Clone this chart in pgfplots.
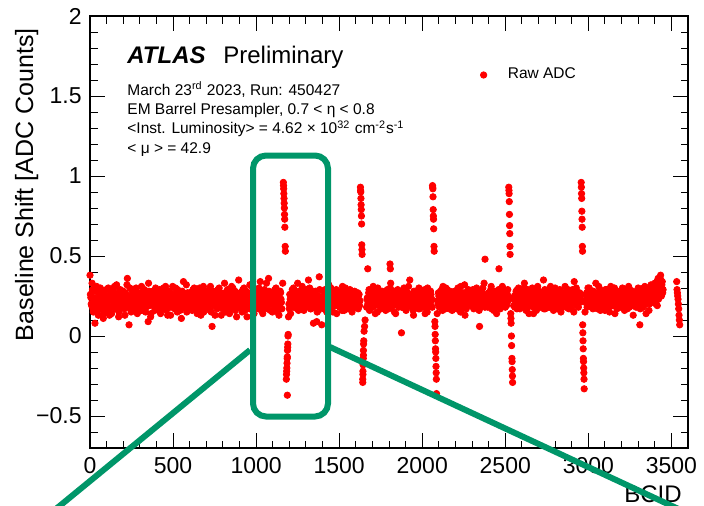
\documentclass[border=0pt]{standalone}
\usepackage{fontspec}
\setmainfont{Liberation Sans}
\usepackage{pgfplots}
\pgfplotsset{compat=1.18}
\definecolor{zoomgreen}{RGB}{0,150,105}
\definecolor{adcred}{RGB}{255,0,0}
\pgfplotsset{adc/.style={only marks, mark=*, mark size=1.6pt, color=adcred, mark options={draw=none, fill=adcred}}}

\begin{document}
\begin{tikzpicture}[x=1pt,y=1pt]
\useasboundingbox (0,0) rectangle (352,252.5);
\begin{axis}[
  at={(45pt,28.5pt)}, anchor=south west,
  scale only axis, width=299pt, height=216pt,
  xmin=0, xmax=3600, ymin=-0.7, ymax=2,
  xtick={0,500,...,3500}, xticklabels={0,500,1000,1500,2000,2500,3000,3500},
  minor xtick={0,100,...,3600},
  ytick={-0.5,0,0.5,1,1.5,2}, yticklabels={−0.5,0,0.5,1,1.5,2},
  minor ytick={-0.7,-0.6,...,2.0},
  tick align=inside, major tick length=7.5pt, minor tick length=3.75pt,
  axis line style={line width=0.6pt}, tick style={black, line width=0.5pt},
  tick label style={font=\fontsize{11.5}{13}\selectfont},
  xticklabel style={inner sep=0pt, anchor=north, yshift=-4.5pt},
  yticklabel style={inner sep=0pt, anchor=east, xshift=-4pt},
  xlabel={BCID}, ylabel={Baseline Shift [ADC Counts]},
  label style={font=\fontsize{12}{14}\selectfont},
  xlabel style={at={(axis description cs:0.99,-0.125)}, anchor=base east, inner sep=0pt},
  ylabel style={at={(axis description cs:-0.0953,0.9722)}, anchor=base east, inner sep=0pt,
    font=\fontsize{12.5}{14}\selectfont},
  legend image code/.code={\draw[#1] plot coordinates {(0pt,0pt)};},
  legend style={at={(axis description cs:0.6522,0.8634)}, anchor=west, draw=none, fill=none,
    font=\fontsize{7.75}{9}\selectfont, inner sep=0pt, column sep=0pt, nodes={inner sep=0pt}},
  clip=false,
]
% baseline band, BCID 0-1155
\addplot[adc] coordinates {
(0,.38)(5,.24)(10,.19)(15,.29)(20,.15)(25,.22)(30,.08)(35,.18)(40,.31)(45,.21)(50,.13)(55,.25)(60,.20)(65,.27)(70,.17)(75,.23)(80,.11)(85,.28)(90,.19)(95,.24)
(100,.21)(105,.16)(110,.30)(115,.23)(120,.18)(125,.26)(130,.14)(135,.22)(140,.29)(145,.20)(150,.25)(155,.17)(160,.32)(165,.19)(170,.23)(175,.15)(180,.27)(185,.21)(190,.18)(195,.24)
(200,.28)(205,.20)(210,.13)(215,.24)(220,.19)(225,.36)(230,.22)(235,.07)(240,.30)(245,.17)(250,.23)(255,.25)(260,.16)(265,.21)(270,.29)(275,.18)(280,.24)(285,.14)(290,.27)(295,.22)
(300,.19)(305,.25)(310,.31)(315,.17)(320,.23)(325,.20)(330,.26)(335,.15)(340,.26)(345,.21)(350,.09)(355,.28)(360,.24)(365,.12)(370,.22)(375,.27)(380,.19)(385,.25)(390,.16)(395,.30)
(400,.23)(405,.17)(410,.26)(415,.21)(420,.29)(425,.14)(430,.24)(435,.20)(440,.18)(445,.27)(450,.22)(455,.31)(460,.16)(465,.25)(470,.19)(475,.23)(480,.28)(485,.13)(490,.21)(495,.26)
(500,.20)(505,.24)(510,.17)(515,.30)(520,.22)(525,.15)(530,.27)(535,.19)(540,.25)(545,.23)(550,.11)(555,.28)(560,.21)(565,.18)(570,.26)(575,.24)(580,.32)(585,.16)(590,.22)(595,.20)
(600,.27)(605,.19)(610,.23)(615,.16)(620,.29)(625,.21)(630,.25)(635,.18)(640,.24)(645,.14)(650,.26)(655,.22)(660,.30)(665,.17)(670,.20)(675,.28)(680,.23)(685,.15)(690,.25)(695,.19)
(700,.22)(705,.28)(710,.18)(715,.25)(720,.20)(725,.31)(730,.15)(735,.06)(740,.27)(745,.19)(750,.24)(755,.21)(760,.26)(765,.17)(770,.29)(775,.22)(780,.18)(785,.25)(790,.13)(795,.23)
(800,.24)(805,.20)(810,.33)(815,.17)(820,.26)(825,.22)(830,.19)(835,.28)(840,.14)(845,.23)(850,.25)(855,.21)(860,.30)(865,.18)(870,.24)(875,.16)(880,.27)(885,.20)(890,.22)(895,.35)
(900,.18)(905,.26)(910,.21)(915,.15)(920,.29)(925,.23)(930,.19)(935,.25)(940,.28)(945,.12)(950,.22)(955,.27)(960,.17)(965,.24)(970,.20)(975,.31)(980,.16)(985,.26)(990,.23)(995,.19)
(1000,.25)(1005,.21)(1010,.28)(1015,.17)(1020,.23)(1025,.34)(1030,.19)(1035,.26)(1040,.14)(1045,.22)(1050,.29)(1055,.20)(1060,.24)(1065,.18)(1070,.27)(1075,.36)(1080,.21)(1085,.16)(1090,.25)(1095,.23)
(1100,.20)(1105,.27)(1110,.18)(1115,.24)(1120,.30)(1125,.22)(1130,.15)(1135,.26)(1140,.19)(1145,.28)(1150,.23)(1155,.17)
(2.5,.26)(7.5,.20)(12.5,.33)(17.5,.17)(22.5,.24)(27.5,.21)(32.5,.28)(37.5,.19)(42.5,.23)(47.5,.16)(52.5,.27)(57.5,.22)(62.5,.30)(67.5,.18)(72.5,.25)(77.5,.20)(82.5,.14)(87.5,.26)(92.5,.22)(97.5,.29)
(102.5,.19)(107.5,.25)(112.5,.22)(117.5,.13)(122.5,.28)(127.5,.24)(132.5,.18)(137.5,.26)(142.5,.21)(147.5,.31)(152.5,.17)(157.5,.23)(162.5,.20)(167.5,.27)(172.5,.12)(177.5,.24)(182.5,.29)(187.5,.19)(192.5,.22)(197.5,.26)
(202.5,.23)(207.5,.17)(212.5,.27)(217.5,.21)(222.5,.32)(227.5,.18)(232.5,.25)(237.5,.20)(242.5,.24)(247.5,.15)(252.5,.28)(257.5,.22)(262.5,.19)(267.5,.26)(272.5,.23)(277.5,.30)(282.5,.16)(287.5,.25)(292.5,.21)(297.5,.18)
(302.5,.27)(307.5,.22)(312.5,.16)(317.5,.25)(322.5,.20)(327.5,.29)(332.5,.23)(337.5,.18)(342.5,.24)(347.5,.21)(352.5,.33)(357.5,.19)(362.5,.26)(367.5,.14)(372.5,.23)(377.5,.28)(382.5,.20)(387.5,.25)(392.5,.17)(397.5,.22)
(402.5,.20)(407.5,.28)(412.5,.23)(417.5,.16)(422.5,.25)(427.5,.19)(432.5,.27)(437.5,.22)(442.5,.30)(447.5,.17)(452.5,.24)(457.5,.21)(462.5,.26)(467.5,.13)(472.5,.28)(477.5,.20)(482.5,.23)(487.5,.18)(492.5,.25)(497.5,.31)
(502.5,.25)(507.5,.18)(512.5,.22)(517.5,.27)(522.5,.19)(527.5,.29)(532.5,.21)(537.5,.24)(542.5,.16)(547.5,.26)(552.5,.20)(557.5,.23)(562.5,.34)(567.5,.18)(572.5,.25)(577.5,.22)(582.5,.15)(587.5,.27)(592.5,.21)(597.5,.24)
(602.5,.21)(607.5,.26)(612.5,.18)(617.5,.24)(622.5,.22)(627.5,.30)(632.5,.17)(637.5,.27)(642.5,.20)(647.5,.23)(652.5,.29)(657.5,.19)(662.5,.25)(667.5,.13)(672.5,.22)(677.5,.24)(682.5,.31)(687.5,.20)(692.5,.26)(697.5,.18)
(702.5,.25)(707.5,.19)(712.5,.23)(717.5,.29)(722.5,.16)(727.5,.22)(732.5,.26)(737.5,.20)(742.5,.28)(747.5,.24)(752.5,.13)(757.5,.21)(762.5,.25)(767.5,.18)(772.5,.23)(777.5,.30)(782.5,.19)(787.5,.27)(792.5,.22)(797.5,.17)
(802.5,.20)(807.5,.23)(812.5,.27)(817.5,.15)(822.5,.22)(827.5,.29)(832.5,.25)(837.5,.18)(842.5,.26)(847.5,.21)(852.5,.31)(857.5,.17)(862.5,.24)(867.5,.20)(872.5,.28)(877.5,.23)(882.5,.12)(887.5,.26)(892.5,.19)(897.5,.24)
(902.5,.27)(907.5,.22)(912.5,.18)(917.5,.25)(922.5,.20)(927.5,.30)(932.5,.16)(937.5,.24)(942.5,.21)(947.5,.26)(952.5,.19)(957.5,.23)(962.5,.32)(967.5,.18)(972.5,.27)(977.5,.22)(982.5,.25)(987.5,.14)(992.5,.21)(997.5,.28)
(1002.5,.22)(1007.5,.18)(1012.5,.25)(1017.5,.30)(1022.5,.20)(1027.5,.24)(1032.5,.16)(1037.5,.27)(1042.5,.23)(1047.5,.19)(1052.5,.26)(1057.5,.21)(1062.5,.33)(1067.5,.17)(1072.5,.24)(1077.5,.28)(1082.5,.20)(1087.5,.25)(1092.5,.22)(1097.5,.15)
(1102.5,.24)(1107.5,.21)(1112.5,.29)(1117.5,.17)(1122.5,.25)(1127.5,.20)(1132.5,.26)(1137.5,.13)(1142.5,.23)(1147.5,.27)(1152.5,.21)
};
\addlegendentry{\hspace{10.5pt}Raw ADC}
% baseline band, BCID 1195-1625
\addplot[adc, forget plot] coordinates {
(1195,.12)(1200,.17)(1205,.23)(1210,.19)(1215,.26)(1220,.21)(1225,.30)(1230,.24)(1235,.18)(1240,.27)(1245,.22)(1250,.33)(1255,.16)(1260,.25)(1265,.20)(1270,.28)(1275,.23)(1280,.19)(1285,.26)(1290,.21)
(1295,.24)(1300,.18)(1305,.29)(1310,.22)(1315,.35)(1320,.20)(1325,.26)(1330,.17)(1335,.23)(1340,.28)(1345,.08)(1350,.21)(1355,.25)(1360,.19)(1365,.09)(1370,.24)(1375,.16)(1380,.37)(1385,.22)(1390,.20)
(1395,.07)(1400,.21)(1405,.18)(1410,.24)(1415,.29)(1420,.23)(1425,.15)(1430,.27)(1435,.20)(1440,.25)(1445,.22)(1450,.30)(1455,.17)(1460,.24)(1465,.19)(1470,.28)(1475,.21)(1480,.26)(1485,.14)(1490,.23)
(1495,.20)(1500,.27)(1505,.23)(1510,.18)(1515,.25)(1520,.31)(1525,.21)(1530,.16)(1535,.24)(1540,.28)(1545,.19)(1550,.22)(1555,.26)(1560,.17)(1565,.29)(1570,.23)(1575,.20)(1580,.25)(1585,.18)(1590,.24)
(1595,.21)(1600,.27)(1605,.19)(1610,.24)(1615,.17)(1620,.26)(1625,.22)
(1197.5,.20)(1202.5,.26)(1207.5,.14)(1212.5,.24)(1217.5,.29)(1222.5,.18)(1227.5,.22)(1232.5,.27)(1237.5,.20)(1242.5,.25)(1247.5,.17)(1252.5,.23)(1257.5,.28)(1262.5,.21)(1267.5,.26)(1272.5,.19)(1277.5,.31)(1282.5,.22)(1287.5,.16)(1292.5,.24)
(1297.5,.27)(1302.5,.21)(1307.5,.19)(1312.5,.25)(1317.5,.22)(1322.5,.30)(1327.5,.17)(1332.5,.24)(1337.5,.20)(1342.5,.26)(1347.5,.23)(1352.5,.18)(1357.5,.28)(1362.5,.21)(1367.5,.15)(1372.5,.25)(1377.5,.22)(1382.5,.29)(1387.5,.19)(1392.5,.24)
(1397.5,.22)(1402.5,.28)(1407.5,.17)(1412.5,.25)(1417.5,.21)(1422.5,.19)(1427.5,.26)(1432.5,.23)(1437.5,.32)(1442.5,.18)(1447.5,.24)(1452.5,.20)(1457.5,.27)(1462.5,.15)(1467.5,.22)(1472.5,.25)(1477.5,.19)(1482.5,.29)(1487.5,.23)(1492.5,.20)
(1497.5,.25)(1502.5,.18)(1507.5,.21)(1512.5,.28)(1517.5,.16)(1522.5,.23)(1527.5,.26)(1532.5,.20)(1537.5,.30)(1542.5,.22)(1547.5,.17)(1552.5,.25)(1557.5,.24)(1562.5,.19)(1567.5,.27)(1572.5,.21)(1577.5,.15)(1582.5,.26)(1587.5,.22)(1592.5,.28)
(1597.5,.18)(1602.5,.24)(1607.5,.20)(1612.5,.27)(1617.5,.23)(1622.5,.19)
};
% baseline band, BCID 1665-2060
\addplot[adc, forget plot] coordinates {
(1665,.18)(1670,.24)(1675,.21)(1680,.29)(1685,.17)(1690,.26)(1695,.23)(1700,.20)(1705,.31)(1710,.25)(1715,.19)(1720,.22)(1725,.27)(1730,.15)(1735,.24)(1740,.28)(1745,.21)(1750,.18)(1755,.25)(1760,.23)
(1765,.27)(1770,.20)(1775,.24)(1780,.16)(1785,.22)(1790,.29)(1795,.19)(1800,.25)(1805,.21)(1810,.33)(1815,.18)(1820,.26)(1825,.23)(1830,.20)(1835,.28)(1840,.14)(1845,.24)(1850,.21)(1855,.27)(1860,.19)
(1865,.25)(1870,.22)(1875,.02)(1880,.18)(1885,.26)(1890,.30)(1895,.21)(1900,.17)(1905,.24)(1910,.27)(1915,.20)(1920,.23)(1925,.35)(1930,.19)(1935,.25)(1940,.22)(1945,.16)(1950,.28)(1955,.21)(1960,.24)
(1965,.19)(1970,.26)(1975,.23)(1980,.30)(1985,.17)(1990,.22)(1995,.27)(2000,.20)(2005,.25)(2010,.18)(2015,.29)(2020,.24)(2025,.21)(2030,.15)(2035,.26)(2040,.23)(2045,.19)(2050,.28)(2055,.22)(2060,.18)
(1667.5,.23)(1672.5,.20)(1677.5,.27)(1682.5,.16)(1687.5,.25)(1692.5,.21)(1697.5,.28)(1702.5,.18)(1707.5,.24)(1712.5,.22)(1717.5,.14)(1722.5,.26)(1727.5,.20)(1732.5,.30)(1737.5,.23)(1742.5,.19)(1747.5,.25)(1752.5,.17)(1757.5,.28)(1762.5,.22)
(1767.5,.19)(1772.5,.25)(1777.5,.22)(1782.5,.28)(1787.5,.20)(1792.5,.24)(1797.5,.17)(1802.5,.26)(1807.5,.30)(1812.5,.21)(1817.5,.23)(1822.5,.19)(1827.5,.27)(1832.5,.15)(1837.5,.22)(1842.5,.25)(1847.5,.20)(1852.5,.29)(1857.5,.18)(1862.5,.24)
(1867.5,.21)(1872.5,.27)(1877.5,.18)(1882.5,.24)(1887.5,.20)(1892.5,.23)(1897.5,.29)(1902.5,.16)(1907.5,.25)(1912.5,.21)(1917.5,.31)(1922.5,.19)(1927.5,.22)(1932.5,.26)(1937.5,.18)(1942.5,.24)(1947.5,.13)(1952.5,.27)(1957.5,.23)(1962.5,.20)
(1967.5,.26)(1972.5,.21)(1977.5,.17)(1982.5,.24)(1987.5,.29)(1992.5,.20)(1997.5,.23)(2002.5,.19)(2007.5,.27)(2012.5,.22)(2017.5,.14)(2022.5,.25)(2027.5,.21)(2032.5,.30)(2037.5,.18)(2042.5,.24)(2047.5,.20)(2052.5,.26)(2057.5,.23)
(1672,.42)(1806,.45)(1808,.42)
};
% baseline band, BCID 2090-2520
\addplot[adc, forget plot] coordinates {
(2090,.14)(2095,.20)(2100,.25)(2105,.22)(2110,.28)(2115,.18)(2120,.24)(2125,.31)(2130,.21)(2135,.26)(2140,.17)(2145,.23)(2150,.29)(2155,.20)(2160,.25)(2165,.19)(2170,.27)(2175,.22)(2180,.16)(2185,.24)
(2190,.21)(2195,.28)(2200,.18)(2205,.25)(2210,.23)(2215,.30)(2220,.20)(2225,.26)(2230,.15)(2235,.22)(2240,.27)(2245,.19)(2250,.24)(2255,.32)(2260,.21)(2265,.17)(2270,.25)(2275,.23)(2280,.28)(2285,.20)
(2290,.26)(2295,.19)(2300,.23)(2305,.29)(2310,.17)(2315,.24)(2320,.21)(2325,.27)(2330,.20)(2335,.25)(2340,.22)(2345,.06)(2350,.18)(2355,.28)(2360,.24)(2365,.30)(2370,.21)(2375,.26)(2380,.19)(2385,.23)
(2390,.24)(2395,.18)(2400,.27)(2405,.21)(2410,.25)(2415,.31)(2420,.20)(2425,.23)(2430,.16)(2435,.28)(2440,.22)(2445,.26)(2450,.19)(2455,.24)(2460,.29)(2465,.21)(2470,.17)(2475,.25)(2480,.23)(2485,.20)
(2490,.27)(2495,.22)(2500,.18)(2505,.25)(2510,.21)(2515,.29)(2520,.24)
(2092.5,.22)(2097.5,.27)(2102.5,.18)(2107.5,.24)(2112.5,.20)(2117.5,.29)(2122.5,.16)(2127.5,.23)(2132.5,.26)(2137.5,.21)(2142.5,.30)(2147.5,.19)(2152.5,.25)(2157.5,.22)(2162.5,.17)(2167.5,.28)(2172.5,.24)(2177.5,.20)(2182.5,.26)(2187.5,.21)
(2192.5,.26)(2197.5,.20)(2202.5,.23)(2207.5,.17)(2212.5,.28)(2217.5,.22)(2222.5,.25)(2227.5,.19)(2232.5,.31)(2237.5,.21)(2242.5,.24)(2247.5,.18)(2252.5,.27)(2257.5,.13)(2262.5,.23)(2267.5,.26)(2272.5,.20)(2277.5,.29)(2282.5,.22)(2287.5,.25)
(2292.5,.20)(2297.5,.24)(2302.5,.28)(2307.5,.21)(2312.5,.26)(2317.5,.18)(2322.5,.23)(2327.5,.30)(2332.5,.19)(2337.5,.25)(2342.5,.16)(2347.5,.22)(2352.5,.27)(2357.5,.20)(2362.5,.24)(2367.5,.21)(2372.5,.33)(2377.5,.18)(2382.5,.25)(2387.5,.22)
(2392.5,.21)(2397.5,.26)(2402.5,.19)(2407.5,.23)(2412.5,.29)(2417.5,.17)(2422.5,.25)(2427.5,.22)(2432.5,.27)(2437.5,.20)(2442.5,.24)(2447.5,.14)(2452.5,.26)(2457.5,.21)(2462.5,.18)(2467.5,.28)(2472.5,.23)(2477.5,.20)(2482.5,.31)(2487.5,.25)
(2492.5,.20)(2497.5,.24)(2502.5,.28)(2507.5,.19)(2512.5,.26)(2517.5,.22)
(2378,.48)(2462,.42)
};
% baseline band, BCID 2550-2955
\addplot[adc, forget plot] coordinates {
(2550,.19)(2555,.25)(2560,.22)(2565,.28)(2570,.17)(2575,.24)(2580,.30)(2585,.21)(2590,.26)(2595,.18)(2600,.23)(2605,.27)(2610,.20)(2615,.33)(2620,.24)(2625,.16)(2630,.22)(2635,.29)(2640,.25)(2645,.19)
(2650,.23)(2655,.27)(2660,.20)(2665,.25)(2670,.14)(2675,.22)(2680,.28)(2685,.19)(2690,.26)(2695,.31)(2700,.21)(2705,.24)(2710,.18)(2715,.27)(2720,.23)(2725,.20)(2730,.35)(2735,.25)(2740,.17)(2745,.22)
(2750,.26)(2755,.21)(2760,.29)(2765,.18)(2770,.24)(2775,.20)(2780,.27)(2785,.23)(2790,.16)(2795,.25)(2800,.30)(2805,.22)(2810,.19)(2815,.28)(2820,.24)(2825,.21)(2830,.26)(2835,.15)(2840,.23)(2845,.27)
(2850,.20)(2855,.24)(2860,.31)(2865,.18)(2870,.26)(2875,.22)(2880,.28)(2885,.19)(2890,.25)(2895,.23)(2900,.17)(2905,.29)(2910,.21)(2915,.34)(2920,.24)(2925,.20)(2930,.27)(2935,.22)(2940,.18)(2945,.25)
(2950,.21)(2955,.26)
(2552.5,.23)(2557.5,.18)(2562.5,.26)(2567.5,.21)(2572.5,.29)(2577.5,.20)(2582.5,.24)(2587.5,.17)(2592.5,.27)(2597.5,.22)(2602.5,.25)(2607.5,.19)(2612.5,.30)(2617.5,.23)(2622.5,.21)(2627.5,.27)(2632.5,.18)(2637.5,.24)(2642.5,.14)(2647.5,.26)
(2652.5,.20)(2657.5,.24)(2662.5,.30)(2667.5,.18)(2672.5,.23)(2677.5,.26)(2682.5,.21)(2687.5,.16)(2692.5,.25)(2697.5,.22)(2702.5,.28)(2707.5,.19)(2712.5,.24)(2717.5,.20)(2722.5,.27)(2727.5,.23)(2732.5,.17)(2737.5,.29)(2742.5,.21)(2747.5,.25)
(2752.5,.22)(2757.5,.18)(2762.5,.25)(2767.5,.23)(2772.5,.31)(2777.5,.20)(2782.5,.26)(2787.5,.21)(2792.5,.28)(2797.5,.19)(2802.5,.22)(2807.5,.24)(2812.5,.17)(2817.5,.26)(2822.5,.20)(2827.5,.29)(2832.5,.23)(2837.5,.18)(2842.5,.25)(2847.5,.21)
(2852.5,.27)(2857.5,.19)(2862.5,.23)(2867.5,.26)(2872.5,.21)(2877.5,.29)(2882.5,.17)(2887.5,.24)(2892.5,.20)(2897.5,.28)(2902.5,.25)(2907.5,.22)(2912.5,.15)(2917.5,.26)(2922.5,.21)(2927.5,.30)(2932.5,.19)(2937.5,.24)(2942.5,.22)(2947.5,.27)
(2952.5,.23)
};
% baseline band, BCID 2980-3450, and the last short train
\addplot[adc, forget plot] coordinates {
(2980,.15)(2985,.22)(2990,.27)(2995,.19)(3000,.24)(3005,.30)(3010,.21)(3015,.26)(3020,.18)(3025,.23)(3030,.28)(3035,.20)(3040,.25)(3045,.33)(3050,.22)(3055,.17)(3060,.26)(3065,.24)(3070,.29)(3075,.19)
(3080,.23)(3085,.27)(3090,.20)(3095,.25)(3100,.16)(3105,.22)(3110,.29)(3115,.24)(3120,.18)(3125,.26)(3130,.21)(3135,.31)(3140,.23)(3145,.19)(3150,.27)(3155,.25)(3160,.14)(3165,.22)(3170,.28)(3175,.20)
(3180,.25)(3185,.21)(3190,.28)(3195,.18)(3200,.24)(3205,.30)(3210,.22)(3215,.26)(3220,.19)(3225,.23)(3230,.27)(3235,.17)(3240,.25)(3245,.21)(3250,.29)(3255,.24)(3260,.20)(3265,.26)(3270,.13)(3275,.22)
(3280,.27)(3285,.23)(3290,.19)(3295,.25)(3300,.30)(3305,.21)(3310,.07)(3315,.26)(3320,.22)(3325,.28)(3330,.18)(3335,.24)(3340,.31)(3345,.20)(3350,.25)(3355,.23)(3360,.27)(3365,.16)(3370,.29)(3375,.22)
(3380,.24)(3385,.30)(3390,.21)(3395,.27)(3400,.33)(3405,.23)(3410,.28)(3415,.19)(3420,.36)(3425,.26)(3430,.31)(3435,.38)(3440,.25)(3445,.34)(3450,.29)
(2982.5,.21)(2987.5,.25)(2992.5,.18)(2997.5,.30)(3002.5,.22)(3007.5,.26)(3012.5,.19)(3017.5,.24)(3022.5,.28)(3027.5,.17)(3032.5,.23)(3037.5,.20)(3042.5,.27)(3047.5,.22)(3052.5,.25)(3057.5,.19)(3062.5,.31)(3067.5,.21)(3072.5,.16)(3077.5,.24)
(3082.5,.27)(3087.5,.20)(3092.5,.24)(3097.5,.22)(3102.5,.29)(3107.5,.18)(3112.5,.25)(3117.5,.21)(3122.5,.26)(3127.5,.15)(3132.5,.23)(3137.5,.28)(3142.5,.20)(3147.5,.24)(3152.5,.19)(3157.5,.30)(3162.5,.22)(3167.5,.26)(3172.5,.17)(3177.5,.25)
(3182.5,.20)(3187.5,.26)(3192.5,.23)(3197.5,.19)(3202.5,.27)(3207.5,.22)(3212.5,.25)(3217.5,.16)(3222.5,.29)(3227.5,.21)(3232.5,.24)(3237.5,.20)(3242.5,.31)(3247.5,.18)(3252.5,.23)(3257.5,.26)(3262.5,.22)(3267.5,.28)(3272.5,.19)(3277.5,.25)
(3282.5,.22)(3287.5,.18)(3292.5,.25)(3297.5,.28)(3302.5,.20)(3307.5,.24)(3312.5,.17)(3317.5,.27)(3322.5,.23)(3327.5,.19)(3332.5,.30)(3337.5,.21)(3342.5,.26)(3347.5,.14)(3352.5,.24)(3357.5,.22)(3362.5,.28)(3367.5,.20)(3372.5,.25)(3377.5,.32)
(3382.5,.27)(3387.5,.22)(3392.5,.29)(3397.5,.25)(3402.5,.31)(3407.5,.20)(3412.5,.34)(3417.5,.26)(3422.5,.23)(3427.5,.30)(3432.5,.36)(3437.5,.28)(3442.5,.32)(3447.5,.27)
(3532,.34)(3534,.29)(3536,.27)(3538,.25)(3540,.23)(3542,.20)(3544,.17)(3546,.13)(3548,.10)(3550,.07)
};
% gap overshoot and train-start undershoot
\addplot[adc, forget plot] coordinates {
(1160,.33)(1164,.96)(1165,.94)(1166,.92)(1167,.89)(1168,.86)(1169,.83)(1170,.80)(1171,.76)(1172,.73)(1173,.68)(1175,.56)(1176,.53)
(1182,-.27)(1183,-.24)(1184,-.22)(1185,-.20)(1186,-.17)(1187,-.14)(1188,-.37)(1188,-.13)(1189,-.09)(1190,-.07)(1191,-.05)(1192,0)(1193,.01)
(1628,.93)(1629,.91)(1630,.90)(1631,.86)(1632,.82)(1633,.79)(1634,.75)(1635,.70)(1636,.57)(1637,.54)(1638,.51)
(1642,-.29)(1642,-.27)(1643,-.24)(1643,-.22)(1644,-.18)(1645,-.14)(1646,-.12)(1646,-.09)(1647,-.05)(1648,-.03)(1650,.03)(1653,.06)(1656,.10)
(2062,.94)(2063,.93)(2064,.92)(2065,.87)(2066,.79)(2067,.75)(2068,.73)(2069,.67)(2071,.56)(2072,.53)
(2076,.09)(2077,.06)(2078,.01)(2079,-.03)(2080,-.08)(2081,-.10)(2082,-.14)(2083,-.19)(2084,-.23)(2085,-.27)(2086,-.36)
(2521,.93)(2522,.91)(2523,.89)(2524,.84)(2525,.76)(2526,.69)(2527,.64)(2528,.56)(2529,.51)
(2533,.14)(2534,.11)(2535,.08)(2537,0)(2538,-.06)(2540,-.14)(2541,-.16)(2542,-.21)(2543,-.25)(2544,-.29)
(2957,.96)(2958,.93)(2959,.89)(2960,.86)(2961,.78)(2962,.73)(2963,.68)(2964,.56)(2965,.53)
(2966,.07)(2967,.02)(2968,-.03)(2969,-.08)(2970,-.14)(2971,-.16)(2972,-.20)(2973,-.23)(2974,-.27)(2975,-.33)
};
% labels
\node[anchor=base west, inner sep=0pt, font=\fontsize{12}{14}\selectfont] at (axis description cs:0.0619,0.891) {\textbf{\textit{ATLAS}}};
\node[anchor=base west, inner sep=0pt, font=\fontsize{12}{14}\selectfont] at (axis description cs:0.2224,0.891) {Preliminary};
\begin{scope}[every node/.style={anchor=base west, inner sep=0pt, font=\fontsize{7.75}{9}\selectfont}]
\node at (axis description cs:0.0619,0.8171) {March 23\textsuperscript{rd} 2023, Run: 450427};
\node at (axis description cs:0.0619,0.772) {EM Barrel Presampler, 0.7 < η < 0.8};
\node at (axis description cs:0.0619,0.7269) {<Inst. Luminosity> = 4.62 × 10\textsuperscript{32} cm\textsuperscript{-2}s\textsuperscript{-1}};
\node at (axis description cs:0.0619,0.6817) {< μ > = 42.9};
\end{scope}
\end{axis}
% zoom box with its two guide lines
\draw[zoomgreen, line width=3pt, rounded corners=6.5pt] (126.5,44.25) rectangle (164,174.75);
\draw[zoomgreen, line width=3pt] (125,77.5) -- (20,-8.5);
\draw[zoomgreen, line width=3pt] (165,79) -- (350,-7);
\end{tikzpicture}
\end{document}
